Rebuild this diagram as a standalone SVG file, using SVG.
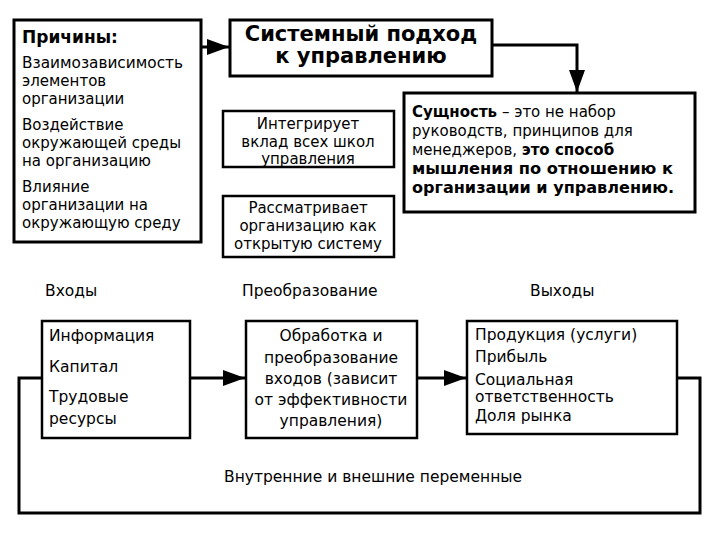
<svg xmlns="http://www.w3.org/2000/svg" width="720" height="540" viewBox="0 0 720 540">
<style>
text{font-family:"DejaVu Sans","Verdana",sans-serif;font-size:15px;fill:#000}
.b{font-weight:bold}
.t{font-size:21px;font-weight:bold}
.c{text-anchor:middle}
.l{font-size:15.5px}
.box{fill:#fff;stroke:#000;stroke-width:3}
.box2{fill:#fff;stroke:#000;stroke-width:2.5}
.ln{fill:none;stroke:#000;stroke-width:3}
</style>
<defs>
<marker id="ah2" markerWidth="22" markerHeight="16" refX="22" refY="8" orient="auto" markerUnits="userSpaceOnUse" viewBox="0 0 22 16">
<path d="M0,0 L22,8 L0,16 Z" fill="#000"/>
</marker>
</defs>
<g id="connectors">
<path class="ln" d="M201,47 L229,47" marker-end="url(#ah2)"/>
<path class="ln" d="M492,45 L577,45 L577,92" marker-end="url(#ah2)"/>
<path class="ln" d="M190,378 L245,378" marker-end="url(#ah2)"/>
<path class="ln" d="M417,378 L466,378" marker-end="url(#ah2)"/>
<path class="ln" d="M677,378 L700,378 L700,513 L19,513 L19,378 L42,378"/>
</g>
<g id="causes">
<rect class="box" x="14" y="20" width="187" height="222"/>
<text class="b" x="22" y="43" style="font-size:17px">Причины:</text>
<text x="22" y="68" textLength="161" lengthAdjust="spacingAndGlyphs">Взаимозависимость</text>
<text x="22" y="86">элементов</text>
<text x="22" y="104">организации</text>
<text x="22" y="130">Воздействие</text>
<text x="22" y="148">окружающей среды</text>
<text x="22" y="166">на организацию</text>
<text x="22" y="192">Влияние</text>
<text x="22" y="210">организации на</text>
<text x="22" y="228">окружающую среду</text>
</g>
<g id="title">
<rect class="box" x="230" y="20" width="262" height="56"/>
<text class="t c" x="361" y="41">Системный подход</text>
<text class="t c" x="361" y="63">к управлению</text>
</g>
<g id="essence">
<rect class="box" x="404" y="93" width="291" height="119"/>
<text x="412" y="117"><tspan class="b">Сущность</tspan> – это не набор</text>
<text x="412" y="136">руководств, принципов для</text>
<text x="412" y="155">менеджеров, <tspan class="b">это способ</tspan></text>
<text class="b" x="412" y="174" textLength="261" lengthAdjust="spacingAndGlyphs">мышления по отношению к</text>
<text class="b" x="412" y="193" textLength="262" lengthAdjust="spacingAndGlyphs">организации и управлению.</text>
</g>
<g id="integrates">
<rect class="box2" x="223" y="111" width="171" height="56"/>
<text class="c" x="308" y="129">Интегрирует</text>
<text class="c" x="308" y="147">вклад всех школ</text>
<text class="c" x="308" y="164">управления</text>
</g>
<g id="considers">
<rect class="box2" x="223" y="196" width="171" height="61"/>
<text class="c" x="308" y="213">Рассматривает</text>
<text class="c" x="308" y="231">организацию как</text>
<text class="c" x="308" y="249">открытую систему</text>
</g>
<g id="labels">
<text class="l" x="45" y="296">Входы</text>
<text class="l" x="242" y="296">Преобразование</text>
<text class="l" x="530" y="296">Выходы</text>
<text class="l" x="224" y="482">Внутренние и внешние переменные</text>
</g>
<g id="inputs">
<rect class="box2" x="42" y="321" width="148" height="117"/>
<text class="l" x="49" y="341">Информация</text>
<text class="l" x="49" y="372">Капитал</text>
<text class="l" x="49" y="402">Трудовые</text>
<text class="l" x="49" y="424">ресурсы</text>
</g>
<g id="transform">
<rect class="box2" x="246" y="321" width="171" height="117"/>
<text class="c l" x="331" y="341">Обработка и</text>
<text class="c l" x="331" y="363">преобразование</text>
<text class="c l" x="331" y="384">входов (зависит</text>
<text class="c l" x="331" y="405">от эффективности</text>
<text class="c l" x="331" y="426">управления)</text>
</g>
<g id="outputs">
<rect class="box2" x="467" y="321" width="210" height="113"/>
<text class="l" x="475" y="340">Продукция (услуги)</text>
<text class="l" x="475" y="362">Прибыль</text>
<text class="l" x="475" y="385">Социальная</text>
<text class="l" x="475" y="402">ответственность</text>
<text class="l" x="475" y="421">Доля рынка</text>
</g>
</svg>
